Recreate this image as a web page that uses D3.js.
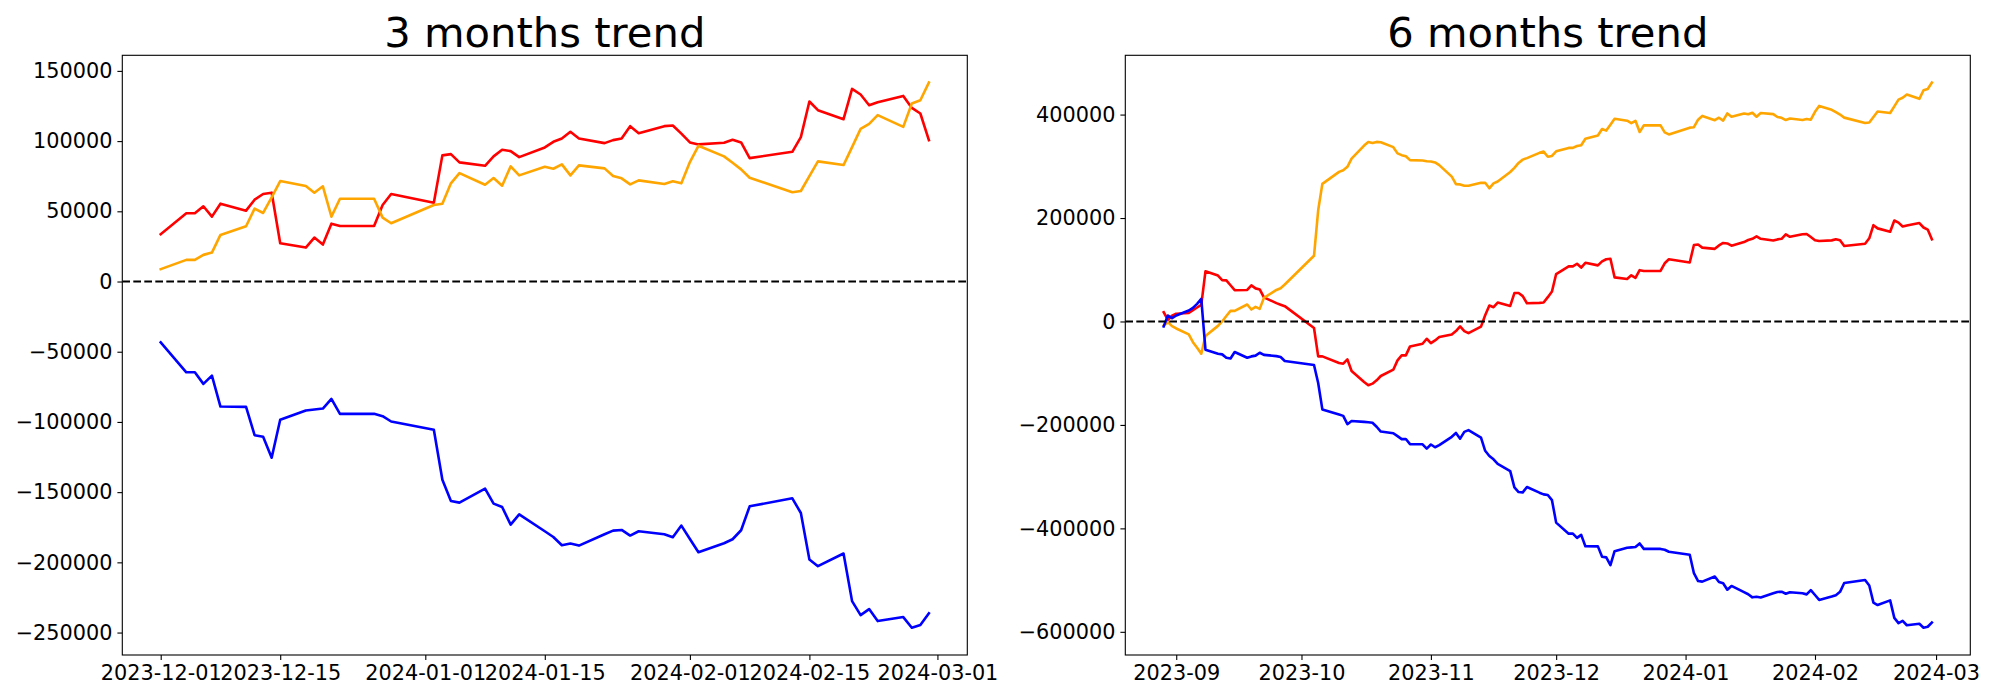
<!DOCTYPE html>
<html><head><meta charset="utf-8">
<script src="https://cdn.jsdelivr.net/npm/d3@7"></script>
<style>
body{margin:0;background:#fff}
svg{display:block}
text{font-family:"DejaVu Sans",sans-serif}
</style>
</head><body>
<svg id="chart" width="2000" height="700"></svg>
<script>
// ---------------- data ----------------
const dates3 = ["2023-12-01","2023-12-04","2023-12-05","2023-12-06","2023-12-07","2023-12-08","2023-12-11","2023-12-12","2023-12-13","2023-12-14","2023-12-15","2023-12-18","2023-12-19","2023-12-20","2023-12-21","2023-12-22","2023-12-26","2023-12-27","2023-12-28","2024-01-02","2024-01-03","2024-01-04","2024-01-05","2024-01-08","2024-01-09","2024-01-10","2024-01-11","2024-01-12","2024-01-15","2024-01-16","2024-01-17","2024-01-18","2024-01-19","2024-01-22","2024-01-23","2024-01-24","2024-01-25","2024-01-26","2024-01-29","2024-01-30","2024-01-31","2024-02-01","2024-02-02","2024-02-05","2024-02-06","2024-02-07","2024-02-08","2024-02-13","2024-02-14","2024-02-15","2024-02-16","2024-02-19","2024-02-20","2024-02-21","2024-02-22","2024-02-23","2024-02-26","2024-02-27","2024-02-28","2024-02-29"];

const red3 = [33680,48600,48600,53580,46200,55430,50460,58270,62320,63270,27280,24160,31270,26290,41220,39580,39580,54500,62320,56140,89820,90740,84840,82430,89110,93800,92880,88610,95500,99490,101900,106600,101900,98560,100690,101900,110640,105670,110640,111140,105300,99060,97640,98770,100900,99060,87900,92380,102800,128190,122010,115600,137150,133170,125570,127700,132170,123650,119670,100690];
const orange3 = [8800,15420,15420,18970,20610,33180,39360,51880,48820,60000,71560,68000,63270,67790,46200,58980,58980,45480,41500,54500,55430,69920,77240,68930,73690,68220,82000,75600,81720,80300,83400,75600,82700,80560,75110,73470,69200,72050,69420,71330,69920,85060,96640,89110,84560,79870,73900,63530,64450,75110,85560,82930,95720,108720,112280,118460,110150,126770,129120,141690];
const blue3 = [-43350,-64660,-64660,-72910,-67010,-89040,-89250,-109430,-110570,-125490,-98490,-91880,-91170,-90460,-83570,-94230,-94230,-95930,-99690,-105600,-141130,-156330,-157470,-147520,-158180,-160590,-173110,-165780,-177870,-181920,-187810,-186640,-188060,-180000,-177380,-176930,-180920,-177870,-180000,-182130,-173820,-183330,-192790,-186390,-183550,-177150,-160100,-154420,-164860,-197970,-202740,-193710,-227610,-237560,-233290,-241820,-238980,-246570,-244660,-236350];

const datesSepNov = ["2023-08-29","2023-08-30","2023-08-31","2023-09-01","2023-09-04","2023-09-05","2023-09-06","2023-09-07","2023-09-08","2023-09-11","2023-09-12","2023-09-13","2023-09-14","2023-09-15","2023-09-18","2023-09-19","2023-09-20","2023-09-21","2023-09-22","2023-09-25","2023-09-26","2023-09-27","2023-10-04","2023-10-05","2023-10-06","2023-10-10","2023-10-11","2023-10-12","2023-10-13","2023-10-16","2023-10-17","2023-10-18","2023-10-19","2023-10-20","2023-10-23","2023-10-24","2023-10-25","2023-10-26","2023-10-27","2023-10-30","2023-10-31","2023-11-01","2023-11-02","2023-11-03","2023-11-06","2023-11-07","2023-11-08","2023-11-09","2023-11-10","2023-11-13","2023-11-14","2023-11-15","2023-11-16","2023-11-17","2023-11-20","2023-11-21","2023-11-22","2023-11-23","2023-11-24","2023-11-27","2023-11-28","2023-11-29","2023-11-30"];
const dates6 = datesSepNov.concat(dates3);

const red6 = [18000,3000,11000,15000,16500,22000,27000,32000,97000,88700,80000,79500,70000,60500,61000,69800,64000,62000,46500,35500,32500,29600,-12500,-67500,-67500,-80300,-81600,-73300,-95800,-117000,-123400,-120200,-113800,-105400,-93200,-75200,-65600,-65600,-48200,-43100,-33400,-41800,-36600,-30200,-25100,-18600,-9600,-18600,-22500,-10000,12000,30800,27600,36600,30000,55000,55000,49000,35300,36000,36600,47000,57900,
  91700,106600,106600,111600,104200,113400,108500,116300,120300,121300,85300,82200,89300,84300,99200,97600,97600,112500,120300,114100,147800,148700,142800,140400,147100,151800,150900,146600,153500,157500,159900,164600,159900,156600,158700,159900,168600,163700,168600,169100,163300,157100,155600,156800,158900,157100,145900,150400,160800,186200,180000,173600,195200,191200,183600,185700,190200,181700,177700,158700];
const orange6 = [-7700,-1300,-9000,-13500,-25000,-40000,-50800,-62300,-28000,-8500,0,10500,20500,20500,32800,23100,28300,24400,45600,61000,64300,71400,127000,215000,266000,289300,292500,299000,315000,340100,347000,345000,347200,346500,337000,325000,321500,319500,312000,311200,309900,309300,307500,302200,280000,265500,265000,262500,262500,268000,268100,257500,267000,270600,289000,297000,306500,312900,315800,326000,328500,318500,320000,
  329000,335600,335600,339200,340800,353400,359600,372100,369000,380200,391800,388200,383500,388000,366400,379200,379200,365700,361700,374700,375600,390100,397400,389100,393900,388400,402200,395800,401900,400500,403600,395800,402900,400800,395300,393700,389400,392300,389600,391500,390100,405300,416800,409300,404800,400100,394100,383700,384700,395300,405800,403100,415900,428900,432500,438700,430400,447000,449300,461900];
const blue6 = [-9600,11600,6400,11600,21200,26300,34100,43700,-54600,-62400,-63600,-70000,-71500,-59100,-70100,-67500,-66000,-60400,-64500,-67000,-68800,-76500,-84000,-118900,-170000,-180000,-182500,-198600,-192500,-194100,-194700,-195800,-203500,-212800,-216000,-221700,-227500,-227200,-237200,-237500,-245800,-237800,-243200,-239100,-223000,-215600,-226600,-213400,-210100,-224600,-250000,-260000,-266500,-275500,-289200,-320700,-329700,-330400,-320100,-331000,-334200,-335500,-345500,
  -388900,-410200,-410200,-418400,-412500,-434500,-434800,-454900,-456100,-471000,-444000,-437400,-436700,-436000,-429100,-439700,-439700,-441400,-445200,-451100,-486600,-501800,-503000,-493000,-503700,-506100,-518600,-511300,-523400,-527400,-533300,-532100,-533600,-525500,-522900,-522400,-526400,-523400,-525500,-527600,-519300,-528800,-538300,-531900,-529100,-522700,-505600,-499900,-510400,-543500,-548200,-539200,-573100,-583100,-578800,-587300,-584500,-592100,-590200,-581900];

const xTicks3 = ["2023-12-01","2023-12-15","2024-01-01","2024-01-15","2024-02-01","2024-02-15","2024-03-01"];
const xTicks6 = ["2023-09-01","2023-10-01","2023-11-01","2023-12-01","2024-01-01","2024-02-01","2024-03-01"];
const yTicks3 = [-250000,-200000,-150000,-100000,-50000,0,50000,100000,150000];
const yTicks6 = [-600000,-400000,-200000,0,200000,400000];
const titles = ["3 months trend","6 months trend"];

// ---------------- drawing ----------------
const parse = d3.utcParse("%Y-%m-%d");
const svg = d3.select("#chart");
svg.append("rect").attr("width",2000).attr("height",700).attr("fill","#fff");

const FS = 20.8;
const TICK = 4.9;

function drawPanel(box, dates, series, xTicks, xFmt, yTicks, title) {
  const ds = dates.map(parse);
  const t0 = +ds[0], t1 = +ds[ds.length-1];
  const xm = 0.05*(t1-t0);
  const x = d3.scaleUtc().domain([new Date(t0-xm), new Date(t1+xm)]).range([box.x0, box.x1]);
  const all = series.flatMap(s => s.values);
  const vmin = d3.min(all), vmax = d3.max(all);
  const ym = 0.05*(vmax-vmin);
  const y = d3.scaleLinear().domain([vmin-ym, vmax+ym]).range([box.y1, box.y0]);

  const g = svg.append("g");
  const clipId = "clip" + Math.round(box.x0);
  g.append("clipPath").attr("id", clipId).append("rect")
    .attr("x", box.x0).attr("y", box.y0).attr("width", box.x1-box.x0).attr("height", box.y1-box.y0);

  const line = d3.line().x((d,i)=>x(ds[i])).y(d=>y(d));
  const lg = g.append("g").attr("clip-path", `url(#${clipId})`);
  series.forEach(s => {
    lg.append("path").attr("d", line(s.values)).attr("fill","none")
      .attr("stroke", s.color).attr("stroke-width", 2.6)
      .attr("stroke-linejoin","round").attr("stroke-linecap","square");
  });
  // zero reference line
  lg.append("line").attr("x1", box.x0).attr("x2", box.x1).attr("y1", y(0)).attr("y2", y(0))
    .attr("stroke","#000").attr("stroke-width",2.1).attr("stroke-dasharray","7.7,3.3");

  // frame
  g.append("rect").attr("x", box.x0).attr("y", box.y0).attr("width", box.x1-box.x0).attr("height", box.y1-box.y0)
    .attr("fill","none").attr("stroke","#000").attr("stroke-width",1.1);

  // axes
  const xa = g.append("g").attr("transform", `translate(0,${box.y1})`)
    .call(d3.axisBottom(x).tickValues(xTicks.map(parse)).tickFormat(xFmt).tickSize(TICK).tickPadding(TICK).tickSizeOuter(0));
  xa.select(".domain").remove();
  xa.attr("font-size", FS).attr("font-family", '"DejaVu Sans", sans-serif');
  xa.selectAll(".tick line").attr("stroke","#000").attr("stroke-width",1.1);
  xa.selectAll(".tick text").attr("fill","#000");

  const yfmt = v => (v < 0 ? "\u2212" : "") + Math.abs(v);
  const ya = g.append("g").attr("transform", `translate(${box.x0},0)`)
    .call(d3.axisLeft(y).tickValues(yTicks).tickFormat(yfmt).tickSize(TICK).tickPadding(TICK).tickSizeOuter(0));
  ya.select(".domain").remove();
  ya.attr("font-size", FS).attr("font-family", '"DejaVu Sans", sans-serif');
  ya.selectAll(".tick line").attr("stroke","#000").attr("stroke-width",1.1);
  ya.selectAll(".tick text").attr("fill","#000");

  g.append("text").attr("x", (box.x0+box.x1)/2).attr("y", box.y0 - 8.3)
    .attr("text-anchor","middle").attr("font-size", 41.7).attr("fill","#000").text(title);
}

drawPanel({x0:122.3, x1:967.3, y0:55.3, y1:655}, dates3,
  [{values: red3, color:"red"}, {values: orange3, color:"orange"}, {values: blue3, color:"blue"}],
  xTicks3, d3.utcFormat("%Y-%m-%d"), yTicks3, titles[0]);

drawPanel({x0:1125.3, x1:1970.3, y0:55.3, y1:655}, dates6,
  [{values: red6, color:"red"}, {values: orange6, color:"orange"}, {values: blue6, color:"blue"}],
  xTicks6, d3.utcFormat("%Y-%m"), yTicks6, titles[1]);
</script>
</body></html>
